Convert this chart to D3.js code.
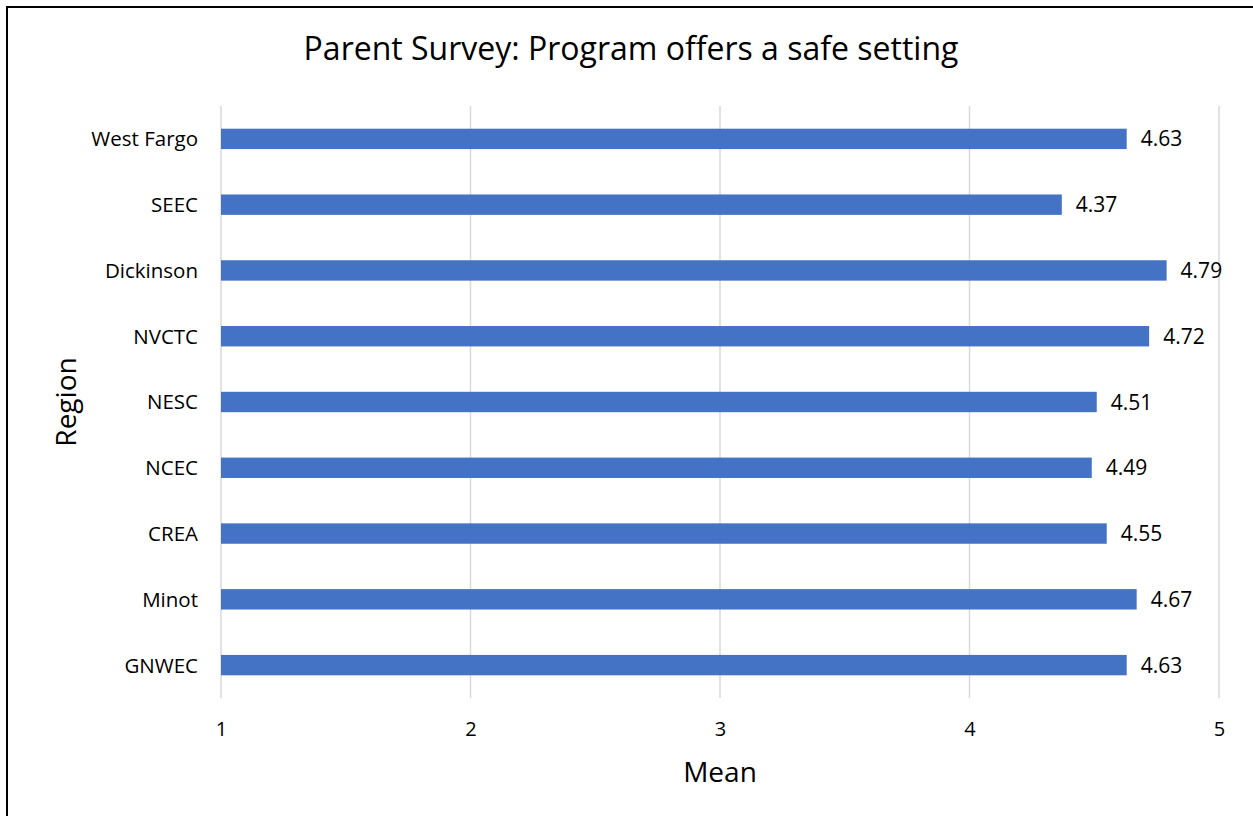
<!DOCTYPE html>
<html><head><meta charset="utf-8">
<script src="https://cdn.jsdelivr.net/npm/d3@7/dist/d3.min.js"></script>
<style>body{margin:0;background:#fff;} text{font-family:"Open Sans","Lato",sans-serif;}</style>
</head><body>
<svg id="c" width="1253" height="816"></svg>
<script>
const categories = ["West Fargo","SEEC","Dickinson","NVCTC","NESC","NCEC","CREA","Minot","GNWEC"];
const means = [4.63,4.37,4.79,4.72,4.51,4.49,4.55,4.67,4.63];
const xTicks = [1,2,3,4,5];
const title = "Parent Survey: Program offers a safe setting";
const xTitle = "Mean";
const yTitle = "Region";

const svg = d3.select("#c");
svg.append("rect").attr("x",7).attr("y",7).attr("width",1260).attr("height",830)
  .attr("fill","#fff").attr("stroke","#000").attr("stroke-width",2);

const x = d3.scaleLinear().domain([1,5]).range([221,1219]);
const y = d3.scaleBand().domain(categories).range([106,698]).paddingInner(0.69).paddingOuter(0.345);

// gridlines
svg.append("g").selectAll("line").data(xTicks).join("line")
  .attr("x1",d=>x(d)).attr("x2",d=>x(d)).attr("y1",106).attr("y2",698)
  .attr("stroke","#d9d9d9").attr("stroke-width",1.5);

// bars
svg.append("g").selectAll("rect").data(categories).join("rect")
  .attr("x",x(1)).attr("y",c=>y(c)).attr("height",y.bandwidth())
  .attr("width",(c,i)=>x(means[i])-x(1)).attr("fill","#4472C4");

// value labels
svg.append("g").selectAll("text").data(categories).join("text")
  .attr("x",(c,i)=>x(means[i])+14).attr("y",c=>y(c)+y.bandwidth()/2)
  .attr("dy","0.36em").attr("font-size",21).attr("fill","#000")
  .text((c,i)=>means[i].toFixed(2));

// y axis labels
const ya = svg.append("g").attr("transform",`translate(${x(1)},0)`)
  .call(d3.axisLeft(y).tickSize(0).tickPadding(23));
ya.select(".domain").remove();
ya.selectAll("text").attr("font-size",20.5).attr("fill","#000").attr("dy","0.36em").style("font-family","'Open Sans',sans-serif");

// x axis labels
const xa = svg.append("g").attr("transform","translate(0,698)")
  .call(d3.axisBottom(x).tickValues(xTicks).tickSize(0).tickPadding(24).tickFormat(d3.format("d")));
xa.select(".domain").remove();
xa.selectAll("text").style("font-size","20px").attr("fill","#000").style("font-family","'Open Sans',sans-serif");

svg.append("text").attr("x",631).attr("y",60).attr("text-anchor","middle")
  .attr("font-size",32).attr("fill","#000").text(title);
svg.append("text").attr("x",720).attr("y",782).attr("text-anchor","middle")
  .attr("font-size",28).attr("fill","#000").text(xTitle);
svg.append("text").attr("transform","translate(76,402) rotate(-90)").attr("text-anchor","middle")
  .attr("font-size",28).attr("fill","#000").text(yTitle);
</script>
</body></html>
